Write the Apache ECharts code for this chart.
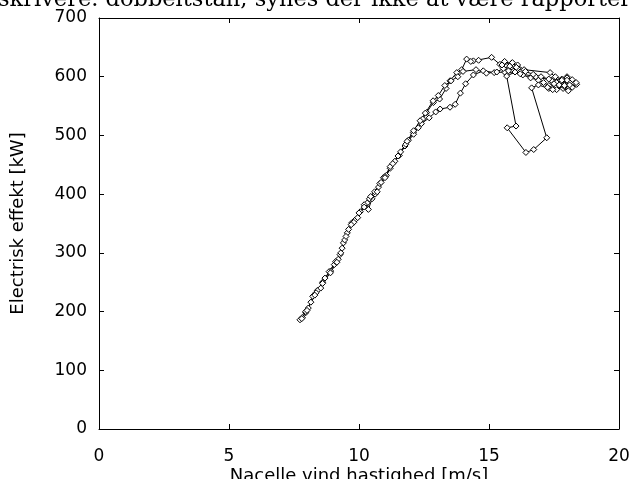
<!DOCTYPE html>
<html>
<head>
<meta charset="utf-8">
<script src="https://cdn.jsdelivr.net/npm/echarts@6/dist/echarts.min.js"></script>
<style>html,body{margin:0;padding:0;background:#fff;}#c{width:631px;height:479px;}</style>
</head>
<body>
<div id="c"></div>
<script>
// Wind speed [m/s] and electric power [kW], in time order (one connected trace)
const windSpeed = [
 7.73,7.82,7.95,8.05,8.22,8.4,8.53,8.69,8.91,9.05,9.2,9.27,9.4,9.55,9.72,9.85,10.05,10.32,10.36,10.5,10.62,10.75,10.94,11.05,11.2,11.38,11.55,11.77,11.9,12.09,12.28,12.45,12.6,12.86,13.1,13.35,13.5,13.76,13.95,14.14,14.4,14.6,14.3,15.1,15.42,15.6,15.85,16.1,16.35,17.35,17.55,17.8,18.0,18.2,18.37,18.05,17.85,17.6,17.3,17.1,16.9,16.6,16.3,16.0,15.68,16.04,15.7,16.42,16.72,17.22,16.64,16.9,17.3,17.6,17.9,18.1,
 18.0,17.4,16.8,16.2,15.6,15.2,14.78,14.4,14.1,13.9,13.7,13.5,13.12,12.95,12.7,12.4,12.1,11.8,11.5,11.2,11.0,10.8,10.6,10.4,10.2,10.0,9.8,9.6,9.45,9.3,9.1,8.85,8.6,8.35,8.15,7.95,7.8,
 8.0,8.3,8.6,8.9,9.15,9.35,9.5,9.7,9.95,10.2,10.45,10.7,10.85,11.0,11.3,11.6,11.85,12.1,12.35,12.55,12.85,13.05,13.3,13.54,13.8,14.0,14.5,14.9,15.3,15.55,15.8,16.1,15.9,15.5,15.75,16.05,16.4,16.7,17.0,17.3,17.6,17.9,18.2,18.35,18.0,17.7,17.45,17.25,17.5,17.8,18.1
];
const power = [
 186,190,198,206,226,236,240,257,269,280,289,297,317,334,351,356,370,385,374,392,400,412,428,432,444,456,466,482,492,505,513,528,539,556,562,580,593,607,612,630,627,628,626,633,621,626,622,620,612,607,600,596,600,595,587,576,580,584,585,590,594,598,603,608,601,516,513,471,476,496,581,586,580,578,583,590,
 598,594,600,605,608,607,610,603,588,572,553,548,545,540,530,520,502,485,465,447,430,418,404,392,382,368,352,340,322,300,285,268,250,232,216,200,188,
 202,228,248,266,284,308,328,348,360,378,396,404,420,428,452,472,490,508,525,538,559,568,585,593,600,609,612,606,608,614,618,614,624,620,610,616,609,604,600,596,590,585,582,590,594,586,578,582,588,594,586
];
const xTicks = [0, 5, 10, 15, 20];
const yTicks = [0, 100, 200, 300, 400, 500, 600, 700];
const xTitle = 'Nacelle vind hastighed [m/s]';
const yTitle = 'Electrisk effekt [kW]';
const topText = 'skrivere. dobbeltstan, synes der ikke at være rapporter';

const points = windSpeed.map((v, i) => [v, power[i]]);
const chart = echarts.init(document.getElementById('c'), null, {renderer: 'canvas'});
const font = '"DejaVu Sans", "Liberation Sans", Arial, sans-serif';
const lineStyle = {color: '#000', width: 1};
chart.setOption({
  animation: false,
  backgroundColor: '#fff',
  grid: {left: 99, right: 12, top: 18, bottom: 50, containLabel: false, outerBoundsMode: 'none'},
  graphic: [{
    type: 'text', x: -2, y: 12, silent: true,
    style: {text: topText, font: '22.5px "DejaVu Serif", "Liberation Serif", serif', fill: '#000', verticalAlign: 'bottom', align: 'left'}
  }],
  xAxis: [{
    type: 'value', min: xTicks[0], max: xTicks[xTicks.length - 1], interval: 5,
    name: xTitle, nameLocation: 'middle', nameGap: 38, nameMoveOverlap: false,
    nameTextStyle: {fontFamily: font, fontSize: 18, color: '#000'},
    axisLine: {show: true, onZero: false, lineStyle},
    axisTick: {show: true, inside: true, length: 5, lineStyle},
    axisLabel: {fontFamily: font, fontSize: 17, color: '#000', margin: 19},
    splitLine: {show: false}
  }, {
    type: 'value', position: 'top', min: xTicks[0], max: xTicks[xTicks.length - 1], interval: 5,
    axisLine: {show: true, onZero: false, lineStyle},
    axisTick: {show: true, inside: true, length: 5, lineStyle},
    axisLabel: {show: false}, splitLine: {show: false}
  }],
  yAxis: [{
    type: 'value', min: yTicks[0], max: yTicks[yTicks.length - 1], interval: 100,
    name: yTitle, nameLocation: 'middle', nameGap: 72, nameRotate: 90, nameMoveOverlap: false,
    nameTextStyle: {fontFamily: font, fontSize: 18, color: '#000'},
    axisLine: {show: true, onZero: false, lineStyle},
    axisTick: {show: true, inside: true, length: 5, lineStyle},
    axisLabel: {fontFamily: font, fontSize: 17, color: '#000', margin: 12},
    splitLine: {show: false}
  }, {
    type: 'value', position: 'right', min: yTicks[0], max: yTicks[yTicks.length - 1], interval: 100,
    axisLine: {show: true, onZero: false, lineStyle},
    axisTick: {show: true, inside: true, length: 5, lineStyle},
    axisLabel: {show: false}, splitLine: {show: false}
  }],
  series: [{
    type: 'line', data: points, xAxisIndex: 0, yAxisIndex: 0,
    symbol: 'diamond', symbolSize: 6, showAllSymbol: true,
    lineStyle: {color: '#000', width: 1},
    itemStyle: {color: '#fff', borderColor: '#000', borderWidth: 1},
    emphasis: {disabled: true}
  }]
});
</script>
</body>
</html>
